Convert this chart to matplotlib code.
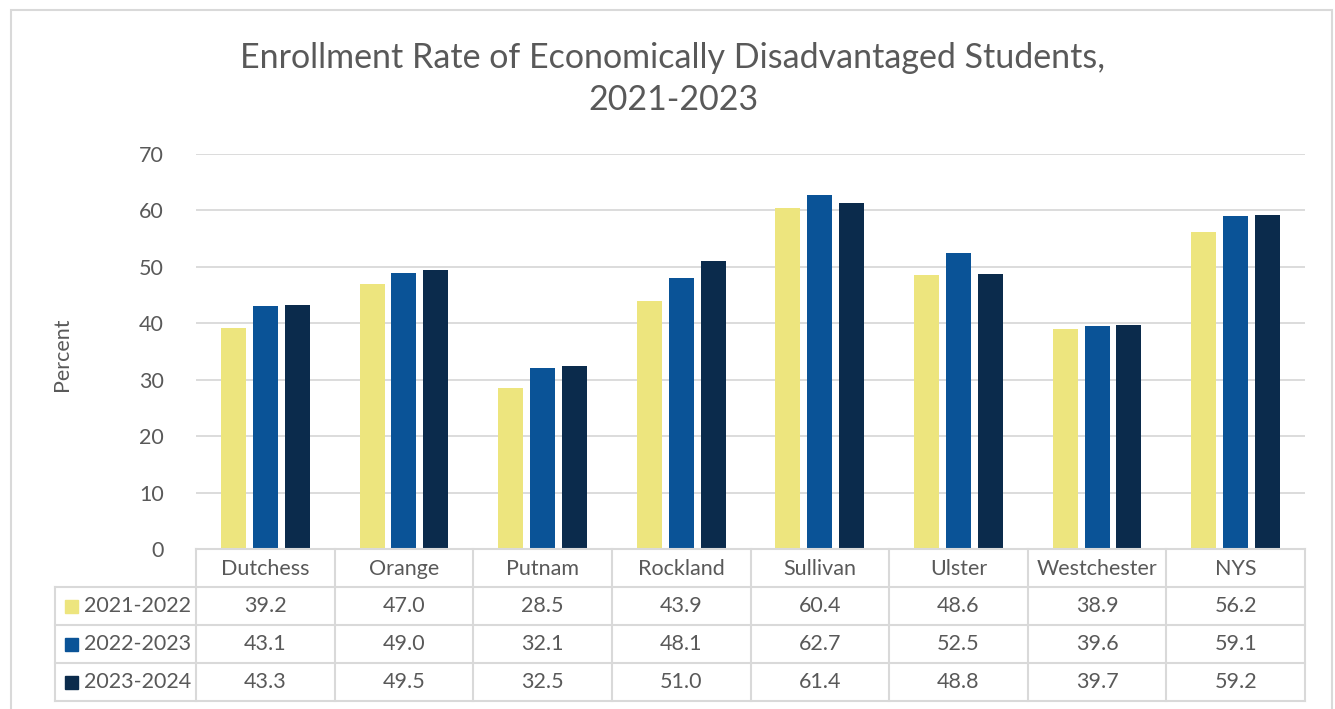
import matplotlib.pyplot as plt
from matplotlib.patches import Rectangle
from matplotlib.lines import Line2D
import numpy as np

plt.rcParams['font.family'] = ['Lato', 'DejaVu Sans']

counties = ['Dutchess', 'Orange', 'Putnam', 'Rockland', 'Sullivan', 'Ulster', 'Westchester', 'NYS']
years = ['2021-2022', '2022-2023', '2023-2024']
rate_2122 = [39.2, 47.0, 28.5, 43.9, 60.4, 48.6, 38.9, 56.2]
rate_2223 = [43.1, 49.0, 32.1, 48.1, 62.7, 52.5, 39.6, 59.1]
rate_2324 = [43.3, 49.5, 32.5, 51.0, 61.4, 48.8, 39.7, 59.2]
yticks = [0, 10, 20, 30, 40, 50, 60, 70]

series = [rate_2122, rate_2223, rate_2324]
colors = ['#EDE57E', '#0A5397', '#0B2B4C']
text_c = '#595959'
line_c = '#D9D9D9'
fs = 15.5

W, H = 1335, 709
fig = plt.figure(figsize=(W / 100, H / 100), dpi=100)

def fx(px):
    return px / W

def fy(py):
    return 1 - py / H

# outer chart border
fig.add_artist(Rectangle((fx(11), fy(715)), fx(1321), fy(10) - fy(715),
                         transform=fig.transFigure, fill=False,
                         edgecolor=line_c, lw=1.5))

left, right, top, bottom = 196, 1305, 154, 549
ax = fig.add_axes([fx(left), fy(bottom), fx(right - left), fy(top) - fy(bottom)])

x = np.arange(len(counties))
offsets = [-0.23, 0, 0.23]
for vals, off, c in zip(series, offsets, colors):
    ax.bar(x + off, vals, width=0.18, color=c, zorder=3)

ax.set_xlim(-0.5, len(counties) - 0.5)
ax.set_ylim(0, 70)
ax.set_yticks(yticks)
ax.set_yticklabels([str(t) for t in yticks], fontsize=fs, color=text_c)
ax.tick_params(axis='y', length=0, pad=23)
ax.set_xticks([])
ax.grid(axis='y', color=line_c, lw=1.3, zorder=0)
for s in ['top', 'right', 'left']:
    ax.spines[s].set_visible(False)
ax.spines['bottom'].set_color(line_c)
ax.spines['bottom'].set_linewidth(1.3)

fig.text(fx(62), fy(354), 'Percent', rotation=90, ha='center', va='center',
         fontsize=fs, color=text_c)
fig.text(fx(673), fy(79), 'Enrollment Rate of Economically Disadvantaged Students,\n2021-2023',
         ha='center', va='center', fontsize=24.5, color=text_c, linespacing=1.42)

# data table below the axis
row_y = [549, 587, 625, 663, 701]
tbl_left = 55
col_edges = [left + i * (right - left) / len(counties) for i in range(len(counties) + 1)]

# horizontal lines
fig.add_artist(Line2D([fx(left), fx(right)], [fy(row_y[0])] * 2, color=line_c, lw=1.5))
for ry in row_y[1:]:
    fig.add_artist(Line2D([fx(tbl_left), fx(right)], [fy(ry)] * 2, color=line_c, lw=1.5))
# vertical lines
for ce in col_edges:
    fig.add_artist(Line2D([fx(ce)] * 2, [fy(row_y[0]), fy(row_y[-1])], color=line_c, lw=1.5))
fig.add_artist(Line2D([fx(tbl_left)] * 2, [fy(row_y[1]), fy(row_y[-1])], color=line_c, lw=1.5))

# header row
for i, name in enumerate(counties):
    cy = fy((row_y[0] + row_y[1]) / 2 + 1)
    fig.text(fx((col_edges[i] + col_edges[i + 1]) / 2), cy, name,
             ha='center', va='center', fontsize=fs, color=text_c)

# value rows
for r, (yr, vals, c) in enumerate(zip(years, series, colors)):
    cy = fy((row_y[r + 1] + row_y[r + 2]) / 2)
    fig.add_artist(Rectangle((fx(65), cy - fy(0) + fy(7)), fx(13), fy(0) - fy(13),
                             transform=fig.transFigure, color=c))
    fig.text(fx(84), cy, yr, ha='left', va='center', fontsize=fs, color=text_c)
    for i, v in enumerate(vals):
        fig.text(fx((col_edges[i] + col_edges[i + 1]) / 2), cy, f'{v:.1f}',
                 ha='center', va='center', fontsize=fs, color=text_c)

fig.savefig('out.png', dpi=100, facecolor='white')
